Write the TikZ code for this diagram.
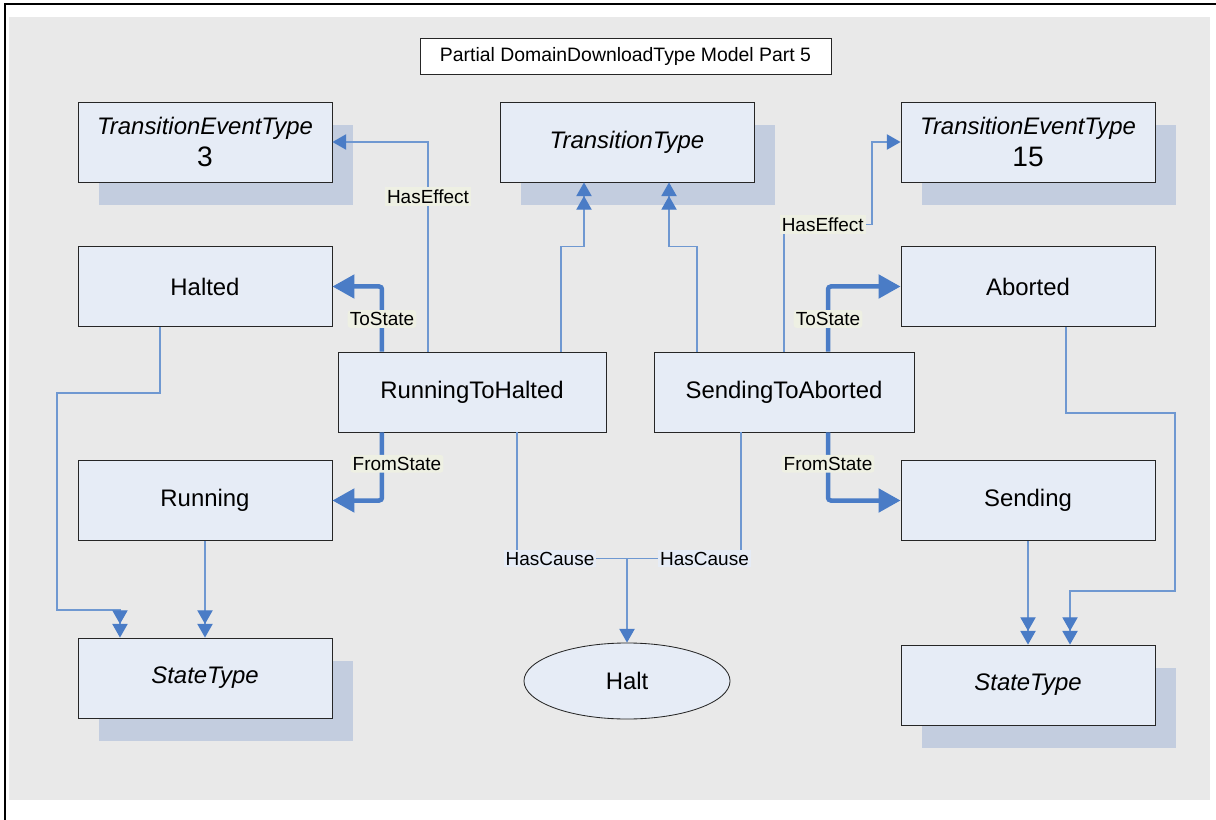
\documentclass[tikz,border=0pt]{standalone}
\usepackage{fontspec}
\setmainfont{Liberation Sans}
\usetikzlibrary{arrows.meta,shapes.geometric,shadows}
\definecolor{boxfill}{HTML}{E6ECF6}
\definecolor{shadefill}{HTML}{C3CDDF}
\definecolor{backfill}{HTML}{E9E9E9}
\definecolor{linkblue}{HTML}{4A7CC6}
\definecolor{thinblue}{HTML}{6F98D1}
\definecolor{tagfill}{HTML}{EEF0E3}

\begin{document}
\begin{tikzpicture}[x = 0.025cm, y = -0.025cm,
    box/.style = {draw = black!85, line width = .6pt, fill = boxfill,
      minimum width = 6.35cm, minimum height = 2cm, inner sep = 0pt,
      font = \fontsize{17}{23}\selectfont, align = center},
    shadowbox/.style = {box, drop shadow = {shadow xshift = .525cm,
      shadow yshift = -.575cm, fill = shadefill, opacity = 1}},
    link/.style = {thinblue, line width = .9pt},
    onetip/.style = {link, -{Triangle[width = .38cm, length = .34cm,
      color = linkblue]}},
    twotip/.style = {link, -{Triangle[width = .38cm, length = .34cm,
      color = linkblue] Triangle[width = .38cm, length = .34cm,
      color = linkblue]}},
    statelink/.style = {linkblue, line width = 3.2pt, rounded corners = 2pt,
      -{Triangle[width = .58cm, length = .55cm]}},
    tag/.style = {fill = tagfill, text = black, inner sep = 1.5pt,
      font = \fontsize{13.5}{16}\selectfont},
    causetag/.style = {tag, fill = boxfill}]
    \useasboundingbox (0,0) rectangle (1216,820);
    \fill [backfill] (9,17) rectangle (1210,800);
    \draw [line width = 1.5pt] (5,820) -- (5,4) -- (1216,4);

    \node [draw = black!85, fill = white, minimum width = 10.275cm,
      minimum height = .9cm, font = \fontsize{13.8}{16}\selectfont]
      (title) at (625.5,56) {Partial DomainDownloadType Model Part 5};

    \node [shadowbox] (tet3) at (205,142)
      {\textit{TransitionEventType}\\\fontsize{20}{23}\selectfont 3};
    \node [shadowbox] (ttype) at (627,142) {\textit{TransitionType}};
    \node [shadowbox] (tet15) at (1028,142)
      {\textit{TransitionEventType}\\\fontsize{20}{23}\selectfont 15};
    \node [box] (halted) at (205,286.5) {Halted};
    \node [box] (aborted) at (1028,286.5) {Aborted};
    \node [box, minimum width = 6.7cm] (rth) at (472,392) {RunningToHalted};
    \node [box, minimum width = 6.5cm] (sta) at (784,392) {SendingToAborted};
    \node [box] (running) at (205,500.5) {Running};
    \node [box] (sending) at (1028,500.5) {Sending};
    \node [shadowbox] (stl) at (205,678) {\textit{StateType}};
    \node [shadowbox] (str) at (1028,685) {\textit{StateType}};
    \node [box, ellipse, minimum width = 5.15cm, minimum height = 1.9cm]
      (halt) at (627,681) {Halt};

    % RunningToHalted
    \draw [onetip] ([xshift = -1.1cm]rth.north) |-
      node [tag, pos = .37] {HasEffect} (tet3.east);
    \draw [twotip] ([xshift = 2.225cm]rth.north) -- ++(0,-105)
      -| ([xshift = -1.075cm]ttype.south);
    \draw [statelink] ([xshift = -2.25cm]rth.north) |-
      node [tag, pos = .25] {ToState} (halted.east);
    \draw [statelink] ([xshift = -2.25cm]rth.south) |-
      node [tag, pos = .23, xshift = .375cm] {FromState} (running.east);

    % SendingToAborted
    \draw [onetip] (sta.north) |- node [tag, pos = .72] {HasEffect}
      ++(88,-127) |- (tet15.west);
    \draw [twotip] ([xshift = -2.175cm]sta.north) -- ++(0,-105)
      -| ([xshift = 1.05cm]ttype.south);
    \draw [statelink] ([xshift = 1.1cm]sta.north) |-
      node [tag, pos = .25] {ToState} (aborted.west);
    \draw [statelink] ([xshift = 1.1cm]sta.south) |-
      node [tag, pos = .23] {FromState} (sending.west);

    % causes
    \coordinate (cause) at ([yshift = 2.1cm]halt.north);
    \draw [link] ([xshift = 1.125cm]rth.south) |-
      node [causetag, pos = .65] {HasCause} (cause);
    \draw [link] ([xshift = -1.075cm]sta.south) |-
      node [causetag, pos = .66] {HasCause} (cause);
    \draw [onetip] (cause) -- (halt.north);

    % states
    \draw [twotip] ([xshift = -1.125cm]halted.south) -- ++(0,66)
      -| ++(-103,217) -| ([xshift = -2.125cm]stl.north);
    \draw [twotip] (running.south) -- (stl.north);
    \draw [twotip] ([xshift = .95cm]aborted.south) -- ++(0,86)
      -| ++(109,178) -| ([xshift = 1.05cm]str.north);
    \draw [twotip] (sending.south) -- (str.north);
  \end{tikzpicture}
\end{document}
